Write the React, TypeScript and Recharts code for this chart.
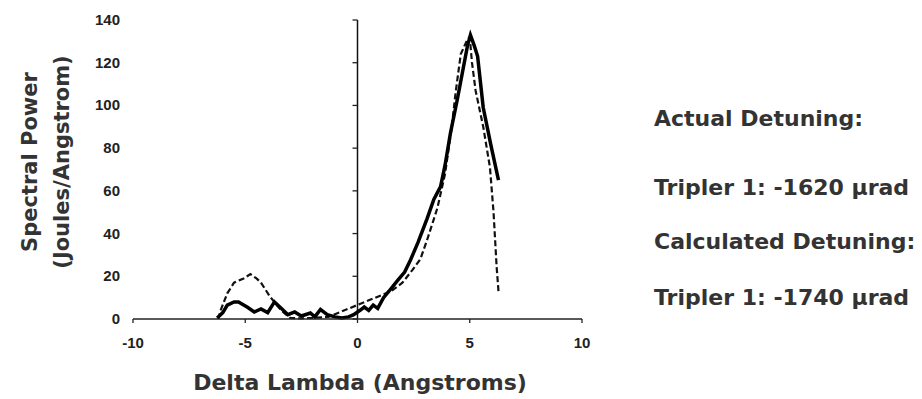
import React from 'react';
import { LineChart, Line, XAxis, YAxis, ReferenceLine } from 'recharts';

// measured spectrum (solid)
const measuredX = [-6.25, -6.0, -5.8, -5.5, -5.3, -4.9, -4.6, -4.3, -4.0, -3.7, -3.4, -3.1, -2.8, -2.5, -2.1, -1.9, -1.65, -1.35, -1.0, -0.7, -0.4, -0.17, 0.13, 0.3, 0.5, 0.7, 0.9, 1.16, 1.4, 1.78, 2.1, 2.36, 2.7, 3.1, 3.4, 3.7, 3.9, 4.14, 4.45, 4.72, 4.9, 5.03, 5.2, 5.35, 5.6, 5.93, 6.28];
const measuredY = [0.5, 3, 6.5, 8, 8, 5.5, 3.3, 4.7, 3, 8, 5, 2, 3.3, 1.4, 2.8, 1, 4.5, 2, 1, 0.5, 1, 2, 4.2, 5.6, 4, 6.5, 5, 10, 13, 18, 22, 27.6, 36, 47, 56, 62, 72, 87, 103, 118, 128, 133, 128, 123, 99, 82, 65];

// calculated spectrum (dashed)
const calculatedX = [-6.2, -6.1, -5.8, -5.5, -5.07, -4.77, -4.5, -4.3, -3.9, -3.4, -3.0, -2.5, -2.0, -1.3, 1.5, 2.0, 2.45, 2.8, 3.1, 3.56, 3.9, 4.2, 4.37, 4.6, 4.9, 5.0, 5.1, 5.26, 5.6, 5.9, 6.06, 6.2, 6.28];
const calculatedY = [0, 4, 12, 17, 19, 21, 19, 17, 10.5, 4, 0.5, 0.3, 0.5, 1, 13, 17, 23, 28, 37, 52, 68, 90, 106, 124, 131, 132, 120, 107, 90, 71, 50, 24, 13];

const xTicks = [-10, -5, 0, 5, 10];
const yTicks = [0, 20, 40, 60, 80, 100, 120, 140];

const measured = measuredX.map((x, i) => ({ x, y: measuredY[i] }));
const calculated = calculatedX.map((x, i) => ({ x, y: calculatedY[i] }));

const W = 922;
const H = 399;
const PLOT_L = 133;
const PLOT_R = 582;
const X0 = (PLOT_L + PLOT_R) / 2;
const heavy = '"DejaVu Sans", sans-serif';
const tickFont = '"Liberation Sans", Arial, sans-serif';

const YTick = (props: any) => {
  const { y, payload } = props;
  return (
    <g>
      <text x={120} y={y} dy={5} textAnchor="end" fontFamily={tickFont} fontWeight="bold" fontSize={15} fill="#222">
        {payload.value}
      </text>
      <line x1={X0 - 5} x2={X0} y1={y} y2={y} stroke="#222" strokeWidth={1.3} />
    </g>
  );
};

const XTick = (props: any) => {
  const { x, payload } = props;
  return (
    <text x={x} y={348} textAnchor="middle" fontFamily={tickFont} fontWeight="bold" fontSize={15} fill="#222">
      {payload.value}
    </text>
  );
};

const sideText = [
  { t: 'Actual Detuning:', y: 106 },
  { t: 'Tripler 1: -1620 µrad', y: 175 },
  { t: 'Calculated Detuning:', y: 229 },
  { t: 'Tripler 1: -1740 µrad', y: 285 },
];

export default function App() {
  return (
    <div style={{ position: 'absolute', left: 0, top: 0, width: W, height: H, background: '#fff' }}>
      <LineChart width={W} height={H} margin={{ top: 20, right: W - PLOT_R, bottom: 50, left: PLOT_L - 60 }}>
        <XAxis
          dataKey="x"
          type="number"
          domain={[-10, 10]}
          ticks={xTicks}
          height={30}
          tickSize={4}
          stroke="#222"
          axisLine={{ stroke: '#222', strokeWidth: 1.5 }}
          tickLine={{ stroke: '#222', strokeWidth: 1.3 }}
          tick={<XTick />}
        />
        <YAxis
          dataKey="y"
          type="number"
          domain={[0, 140]}
          ticks={yTicks}
          width={60}
          axisLine={false}
          tickLine={false}
          tick={<YTick />}
        />
        <ReferenceLine x={0} stroke="#111" strokeWidth={1.5} />
        <Line
          data={calculated}
          dataKey="y"
          type="linear"
          stroke="#111"
          strokeWidth={2.2}
          strokeDasharray="6 3"
          dot={false}
          isAnimationActive={false}
        />
        <Line
          data={measured}
          dataKey="y"
          type="linear"
          stroke="#000"
          strokeWidth={3.5}
          dot={false}
          isAnimationActive={false}
        />
      </LineChart>
      <div
        style={{
          position: 'absolute', left: 46, top: 162, width: 0, height: 0,
          fontFamily: heavy, fontWeight: 'bold', fontSize: 21, color: '#333', lineHeight: '32px',
        }}
      >
        <div style={{ position: 'absolute', left: 0, top: 0, transform: 'translate(-50%, -50%) rotate(-90deg)', whiteSpace: 'nowrap', textAlign: 'center' }}>
          Spectral Power<br />(Joules/Angstrom)
        </div>
      </div>
      <div
        style={{
          position: 'absolute', left: 360, top: 370, transform: 'translateX(-50%)', whiteSpace: 'nowrap',
          fontFamily: heavy, fontWeight: 'bold', fontSize: 22, color: '#333',
        }}
      >
        Delta Lambda (Angstroms)
      </div>
      {sideText.map((s) => (
        <div
          key={s.t}
          style={{
            position: 'absolute', left: 654, top: s.y, whiteSpace: 'nowrap',
            fontFamily: heavy, fontWeight: 'bold', fontSize: 22, color: '#333',
          }}
        >
          {s.t}
        </div>
      ))}
    </div>
  );
}
